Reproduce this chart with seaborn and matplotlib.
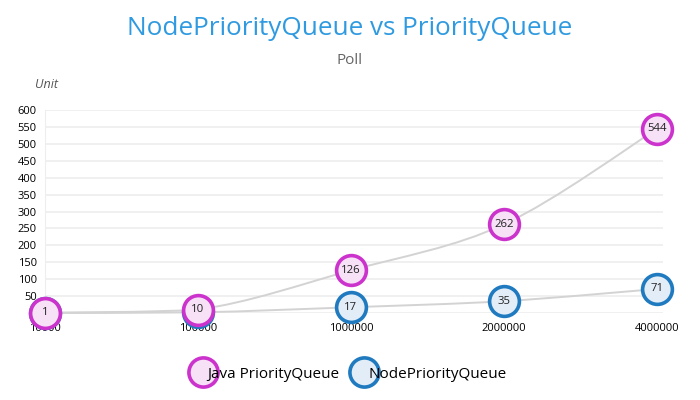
import numpy as np
import pandas as pd
import matplotlib
matplotlib.use("Agg")
import matplotlib.pyplot as plt
from matplotlib.path import Path
from matplotlib.patches import PathPatch
from matplotlib.lines import Line2D
import seaborn as sns

# datos
sizes = ["10000", "100000", "1000000", "2000000", "4000000"]
java_pq = [1, 10, 126, 262, 544]
node_pq = [0, 2, 17, 35, 71]
y_ticks = [0, 50, 100, 150, 200, 250, 300, 350, 400, 450, 500, 550, 600]

sns.set_style("white")
plt.rcParams['font.family'] = ['Open Sans', 'DejaVu Sans']

df = pd.DataFrame({
    "size": sizes * 2,
    "value": java_pq + node_pq,
    "serie": ["Java PriorityQueue"] * len(sizes) + ["NodePriorityQueue"] * len(sizes),
})

edges = {"Java PriorityQueue": "#cc33cc", "NodePriorityQueue": "#1f7abf"}
faces = {"Java PriorityQueue": "#f6e1f6", "NodePriorityQueue": "#e3edf7"}

fig = plt.figure(figsize=(7, 4), dpi=100)
ax = fig.add_axes([0.0643, 0.2175, 0.883, 0.5075])


def curva(ax, xs, ys):
    # curva suave en coordenadas de datos, sin pasarse de los puntos
    pts = list(zip(xs, ys))
    verts = [pts[0]]
    codes = [Path.MOVETO]
    for i in range(len(pts) - 1):
        p0 = pts[i - 1] if i > 0 else pts[i]
        p1 = pts[i]
        p2 = pts[i + 1]
        p3 = pts[i + 2] if i + 2 < len(pts) else pts[i + 1]
        lo, hi = min(p1[1], p2[1]), max(p1[1], p2[1])
        c1 = (p1[0] + (p2[0] - p0[0]) / 6, np.clip(p1[1] + (p2[1] - p0[1]) / 6, lo, hi))
        c2 = (p2[0] - (p3[0] - p1[0]) / 6, np.clip(p2[1] - (p3[1] - p1[1]) / 6, lo, hi))
        verts += [c1, c2, p2]
        codes += [Path.CURVE4] * 3
    ax.add_patch(PathPatch(Path(verts, codes), fill=False, edgecolor="#d3d3d3",
                           lw=1.4, zorder=2, clip_on=False))


xs = np.arange(len(sizes))
curva(ax, xs, java_pq)
curva(ax, xs, node_pq)

z = 3
for serie in ["NodePriorityQueue", "Java PriorityQueue"]:
    sub = df[df["serie"] == serie]
    sns.scatterplot(x=xs, y=sub["value"].values, ax=ax, s=460, marker="o",
                    color=faces[serie], edgecolor=edges[serie], linewidth=2.6,
                    zorder=z, clip_on=False, legend=False)
    for x, v in zip(xs, sub["value"].values):
        ax.text(x, v, str(v), ha="center", va="center", fontsize=8.2,
                color="#222222", zorder=z + 0.5)
    z += 1

ax.set_xlim(0, 4.04)
ax.set_ylim(0, 600)
ax.set_yticks(y_ticks)
ax.set_yticklabels([str(t) for t in y_ticks], fontsize=8, color="black")
ax.set_xticks(xs)
ax.set_xticklabels(sizes, fontsize=8, color="black")
ax.tick_params(axis="y", length=0, pad=6)
ax.tick_params(axis="x", length=0, pad=7)
ax.grid(axis="y", color="#eeeeee", lw=1.2)
ax.set_axisbelow(True)
for s in ["top", "right", "bottom"]:
    ax.spines[s].set_visible(False)
ax.spines["left"].set_color("#eeeeee")
ax.set_xlabel("")
ax.set_ylabel("")

fig.text(0.5, 0.928, "NodePriorityQueue vs PriorityQueue", ha="center", va="center",
         fontsize=18.8, color="#2f9ae0")
fig.text(0.5, 0.85, "Poll", ha="center", va="center", fontsize=11, color="#666666")
fig.text(0.05, 0.79, "Unit", ha="left", va="center", fontsize=9, color="#555555", style="italic")

handles = [Line2D([0], [0], marker="o", color="#dddddd", lw=1, markersize=21,
                  markerfacecolor=faces[k], markeredgecolor=edges[k], markeredgewidth=2.6)
           for k in ["Java PriorityQueue", "NodePriorityQueue"]]
leg = fig.legend(handles, ["Java PriorityQueue", "NodePriorityQueue"], loc="center",
                 bbox_to_anchor=(0.5, 0.065), ncol=2, frameon=False, fontsize=11,
                 handlelength=1.2, handletextpad=-0.3, columnspacing=1.0)
for t in leg.get_texts():
    t.set_color("black")

fig.savefig("out.png", dpi=100)
